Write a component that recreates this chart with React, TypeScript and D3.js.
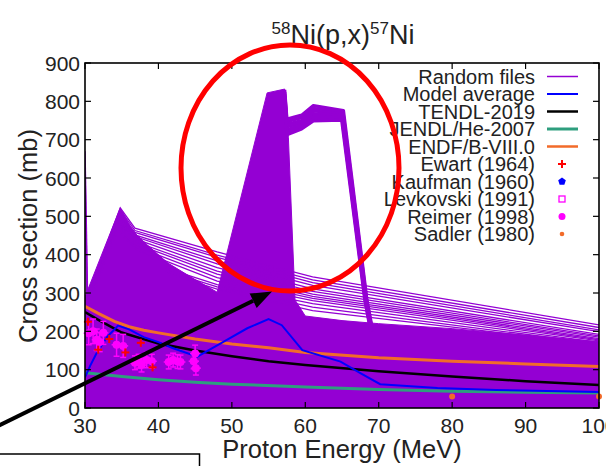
import React from "react";
import * as d3 from "d3";

// ---------- axis ticks ----------
const xTicks = [30, 40, 50, 60, 70, 80, 90, 100];
const yTicks = [0, 100, 200, 300, 400, 500, 600, 700, 800, 900];

// ---------- Random files (TALYS random runs) ----------
// upper edge of the dense purple band (E MeV, mb); band starts at 0
const randomBandTop: [number, number][] = [
  [30, 290], [34.8, 522], [36.5, 462], [38.5, 425], [41.3, 378], [45, 335], [48, 302],
  [54.8, 822], [57.2, 832], [57.7, 705], [58.6, 282], [60, 240], [65, 228], [70, 220],
  [80, 207], [90, 190], [100, 173],
];
// fan of random curves peaking near 35 MeV
const randomFan: [number, number][][] = [
  [[30.3, 290], [34.8, 522], [36.8, 469], [48, 407], [61, 342], [100, 217]],
  [[30.3, 285], [34.8, 517], [36.8, 463], [48, 399], [61, 334], [100, 210]],
  [[30.3, 282], [34.7, 510], [36.8, 458], [48, 393], [61, 327], [100, 204]],
  [[30.3, 278], [34.7, 503], [36.9, 451], [48, 384], [61, 320], [100, 199]],
  [[30.3, 275], [34.6, 497], [37, 446], [48, 376], [61, 311], [100, 192]],
  [[30.3, 272], [34.6, 490], [37, 440], [48, 366], [61, 304], [100, 188]],
  [[30.3, 269], [34.5, 484], [37, 433], [48, 357], [61, 297], [100, 185]],
  [[30.3, 266], [34.5, 478], [37.1, 427], [48, 349], [61, 291], [100, 181]],
  [[30.3, 262], [34.4, 471], [37.1, 420], [48, 340], [61, 286], [100, 178]],
  [[30.3, 258], [34.4, 463], [37.2, 412], [48, 331], [61, 280], [100, 175]],
  [[41, 365], [48, 322], [61, 272], [100, 171]],
  [[41, 358], [48, 316], [61, 263], [100, 168]],
  [[41, 352], [48, 310], [61, 254], [100, 166]],
];
// steep curves starting high at 30 MeV
const randomSpike: [number, number][][] = [
  [[30, 670], [30.35, 290]],
  [[30, 620], [30.3, 285]],
  [[30, 560], [30.25, 280]],
];
// curves with the 57-68 MeV plateau
const randomPlateau: [number, number][][] = [
  [[57.2, 830], [57.5, 754], [59.5, 764], [61.1, 789], [65.2, 776], [68.4, 282], [69.2, 200]],
  [[57.2, 824], [57.5, 747], [59.5, 757], [61.1, 782], [65.15, 771], [68.35, 282], [69.15, 200]],
  [[57.2, 818], [57.5, 740], [59.5, 750], [61.1, 775], [65.1, 767], [68.3, 282], [69.1, 200]],
  [[57.2, 812], [57.5, 733], [59.5, 744], [61.1, 768], [65.05, 763], [68.25, 282], [69.05, 200]],
  [[57.2, 806], [57.5, 726], [59.5, 738], [61.1, 761], [65.0, 759], [68.2, 282], [69.0, 200]],
  [[57.2, 800], [57.5, 719], [59.5, 733], [61.1, 755], [65.0, 755], [68.15, 282], [68.95, 200]],
  [[57.2, 794], [57.5, 713], [59.5, 728], [61.1, 749], [64.95, 751], [68.1, 282], [68.9, 200]],
];

// ---------- evaluations ----------
const modelAverage: [number, number][] = [
  [30, 80], [30.7, 110], [31.5, 140], [33, 185], [34.5, 215], [36, 205], [38, 185], [40, 172],
  [42, 156], [45.3, 134], [48.9, 173], [52.1, 208], [55, 232], [56.8, 216], [59.6, 151],
  [64.8, 121], [67.5, 91], [70.2, 62], [78, 52], [86, 47], [100, 42],
];
const tendl2019: [number, number][] = [
  [30, 250], [32, 228], [35, 197], [40, 168], [45, 150], [50, 135], [55, 122], [60, 112],
  [70, 96], [80, 82], [90, 70], [100, 60],
];
const jendlHe2007: [number, number][] = [
  [30, 92], [35, 82], [40, 74], [45, 67], [50, 62], [60, 55], [70, 48], [80, 44], [90, 41], [100, 39],
];
const endfb80: [number, number][] = [
  [30, 265], [32, 245], [34, 226], [36, 212], [38, 203], [40, 196], [45, 180], [50, 167],
  [55, 157], [60, 145], [70, 131], [80, 122], [90, 115], [100, 108],
];

// ---------- experimental data ----------
const ewartE = [30.4, 31.8, 33.3, 35.5, 37.6, 39.2];
const ewartV = [225, 152, 180, 145, 170, 106];
const reimerE = [30.5, 31.1, 31.6, 32.0, 32.5, 34.3, 35.2, 36.8, 37.3, 37.7, 38.4, 39.1, 41.4, 42.0, 42.6, 43.0, 44.8, 45.0, 45.1];
const reimerV = [195, 200, 178, 172, 196, 165, 162, 118, 122, 112, 125, 122, 120, 125, 121, 120, 122, 142, 104];
const reimerErr = [30, 32, 28, 25, 30, 30, 30, 18, 18, 18, 20, 18, 18, 18, 18, 18, 20, 22, 18];
const sadlerE = [80, 100];
const sadlerV = [30, 30];

const legendLabels = [
  "Random files", "Model average", "TENDL-2019", "JENDL/He-2007", "ENDF/B-VIII.0",
  "Ewart (1964)", "Kaufman (1960)", "Levkovski (1991)", "Reimer (1998)", "Sadler (1980)",
];

const PURPLE = "#9400d3";
const BLUE = "#0000ff";
const GREEN = "#2e9e7e";
const ORANGE = "#f26b2a";
const MAGENTA = "#ff00ff";
const FONT = "'Liberation Sans', Arial, Helvetica, sans-serif";

export default function App() {
  const L = 85, R = 599, T = 63, B = 408;
  const x = d3.scaleLinear().domain([30, 100]).range([L, R]);
  const y = d3.scaleLinear().domain([0, 900]).range([B, T]);
  const line = d3.line<[number, number]>().x((d) => x(d[0])).y((d) => y(d[1]));
  const area = d3.area<[number, number]>().x((d) => x(d[0])).y0(() => y(0)).y1((d) => y(d[1]));

  // arrow geometry (annotation)
  const S = [-2, 426], Tip = [272, 291.5];
  const dx = Tip[0] - S[0], dy = Tip[1] - S[1];
  const len = Math.hypot(dx, dy);
  const ux = dx / len, uy = dy / len;
  const base = [Tip[0] - 21 * ux, Tip[1] - 21 * uy];
  const nx = -uy, ny = ux;
  const head = `${Tip[0]},${Tip[1]} ${base[0] + 8 * nx},${base[1] + 8 * ny} ${base[0] - 8 * nx},${base[1] - 8 * ny}`;

  const legendY = (i: number) => 76.5 + i * 17.5;
  const pent = (cx: number, cy: number, r: number) =>
    d3.range(5).map((k) => {
      const a = -Math.PI / 2 + (k * 2 * Math.PI) / 5;
      return `${cx + r * Math.cos(a)},${cy + r * Math.sin(a)}`;
    }).join(" ");

  return (
    <svg width={606} height={466} style={{ position: "absolute", left: 0, top: 0, background: "#fff" }} fontFamily={FONT}>
      <defs>
        <clipPath id="plotClip">
          <rect x={L} y={T} width={R - L} height={B - T} />
        </clipPath>
      </defs>
      <rect x={0} y={0} width={606} height={466} fill="#fff" />

      {/* title */}
      <text x={343} y={44} textAnchor="middle" fontSize={27} fill="#222">
        <tspan fontSize={17} dy={-10}>58</tspan>
        <tspan fontSize={27} dy={10}>Ni(p,x)</tspan>
        <tspan fontSize={17} dy={-10}>57</tspan>
        <tspan fontSize={27} dy={10}>Ni</tspan>
      </text>

      <g clipPath="url(#plotClip)">
        <path d={area(randomBandTop) ?? ""} fill={PURPLE} stroke={PURPLE} strokeWidth={1} />
        {randomFan.map((c, i) => (
          <path key={"f" + i} d={line(c) ?? ""} fill="none" stroke={PURPLE} strokeWidth={1.3} />
        ))}
        {randomSpike.map((c, i) => (
          <path key={"s" + i} d={line(c) ?? ""} fill="none" stroke={PURPLE} strokeWidth={1.5} />
        ))}
        {randomPlateau.map((c, i) => (
          <path key={"p" + i} d={line(c) ?? ""} fill="none" stroke={PURPLE} strokeWidth={3.2} strokeLinejoin="round" />
        ))}
        <path d={line(jendlHe2007) ?? ""} fill="none" stroke={GREEN} strokeWidth={3} />
        <path d={line(endfb80) ?? ""} fill="none" stroke={ORANGE} strokeWidth={3} />
        <path d={line(tendl2019) ?? ""} fill="none" stroke="#000" strokeWidth={2.5} />
        <path d={line(modelAverage) ?? ""} fill="none" stroke={BLUE} strokeWidth={2} />
      </g>

      {/* experimental data */}
      {reimerE.map((e, i) => (
        <g key={"r" + i} stroke={MAGENTA} strokeWidth={1.5}>
          <line x1={x(e)} x2={x(e)} y1={y(reimerV[i] - reimerErr[i])} y2={y(reimerV[i] + reimerErr[i])} />
          <line x1={x(e) - 3} x2={x(e) + 3} y1={y(reimerV[i] - reimerErr[i])} y2={y(reimerV[i] - reimerErr[i])} />
          <line x1={x(e) - 3} x2={x(e) + 3} y1={y(reimerV[i] + reimerErr[i])} y2={y(reimerV[i] + reimerErr[i])} />
          <line x1={x(e) - 5} x2={x(e) + 5} y1={y(reimerV[i])} y2={y(reimerV[i])} />
          <circle cx={x(e)} cy={y(reimerV[i])} r={4} fill={MAGENTA} stroke="none" />
        </g>
      ))}
      {ewartE.map((e, i) => (
        <g key={"e" + i} stroke="#ff0000" strokeWidth={2}>
          <line x1={x(e) - 4} x2={x(e) + 4} y1={y(ewartV[i])} y2={y(ewartV[i])} />
          <line x1={x(e)} x2={x(e)} y1={y(ewartV[i]) - 4} y2={y(ewartV[i]) + 4} />
        </g>
      ))}
      {sadlerE.map((e, i) => (
        <circle key={"sd" + i} cx={x(e)} cy={y(sadlerV[i])} r={3} fill={ORANGE} />
      ))}

      {/* frame & ticks */}
      <rect x={L} y={T} width={R - L} height={B - T} fill="none" stroke="#000" strokeWidth={1.6} />
      {xTicks.map((t) => (
        <g key={"xt" + t}>
          <line x1={x(t)} x2={x(t)} y1={T} y2={T + 6} stroke="#000" strokeWidth={1.2} />
          <line x1={x(t)} x2={x(t)} y1={B} y2={B - 6} stroke="#000" strokeWidth={1.2} />
          <text x={x(t)} y={433} textAnchor="middle" fontSize={21} fill="#222">{t}</text>
        </g>
      ))}
      {yTicks.map((t) => (
        <g key={"yt" + t}>
          <line x1={L} x2={L + 6} y1={y(t)} y2={y(t)} stroke="#000" strokeWidth={1.2} />
          <line x1={R} x2={R - 6} y1={y(t)} y2={y(t)} stroke="#000" strokeWidth={1.2} />
          <text x={80} y={y(t)} dy="0.36em" textAnchor="end" fontSize={21} fill="#222">{t}</text>
        </g>
      ))}

      {/* axis labels */}
      <text x={342} y={458} textAnchor="middle" fontSize={25.5} fill="#222">Proton Energy (MeV)</text>
      <text transform="translate(37,236) rotate(-90)" textAnchor="middle" fontSize={25.5} fill="#222">Cross section (mb)</text>

      {/* legend */}
      {legendLabels.map((lab, i) => (
        <text key={"lt" + i} x={535} y={legendY(i)} dy="0.36em" textAnchor="end" fontSize={20} fill="#222">{lab}</text>
      ))}
      <line x1={547} x2={578} y1={legendY(0)} y2={legendY(0)} stroke={PURPLE} strokeWidth={1.5} />
      <line x1={547} x2={578} y1={legendY(1)} y2={legendY(1)} stroke={BLUE} strokeWidth={2} />
      <line x1={547} x2={578} y1={legendY(2)} y2={legendY(2)} stroke="#000" strokeWidth={2.5} />
      <line x1={547} x2={578} y1={legendY(3)} y2={legendY(3)} stroke={GREEN} strokeWidth={3} />
      <line x1={547} x2={578} y1={legendY(4)} y2={legendY(4)} stroke={ORANGE} strokeWidth={2.5} />
      <g stroke="#ff0000" strokeWidth={2}>
        <line x1={558} x2={566} y1={legendY(5)} y2={legendY(5)} />
        <line x1={562} x2={562} y1={legendY(5) - 4} y2={legendY(5) + 4} />
      </g>
      <polygon points={pent(562, legendY(6), 4)} fill={BLUE} />
      <rect x={559} y={legendY(7) - 3} width={6} height={6} fill="none" stroke={MAGENTA} strokeWidth={1.3} />
      <circle cx={562} cy={legendY(8)} r={3.5} fill={MAGENTA} />
      <circle cx={562} cy={legendY(9)} r={2.3} fill={ORANGE} />

      {/* annotations */}
      <ellipse cx={290} cy={168} rx={109} ry={123} fill="none" stroke="#ff0000" strokeWidth={5} />
      <line x1={S[0]} y1={S[1]} x2={base[0]} y2={base[1]} stroke="#000" strokeWidth={4} />
      <polygon points={head} fill="#000" />
      <rect x={-2} y={454} width={201.5} height={20} fill="#fff" stroke="#000" strokeWidth={1.5} />
    </svg>
  );
}
